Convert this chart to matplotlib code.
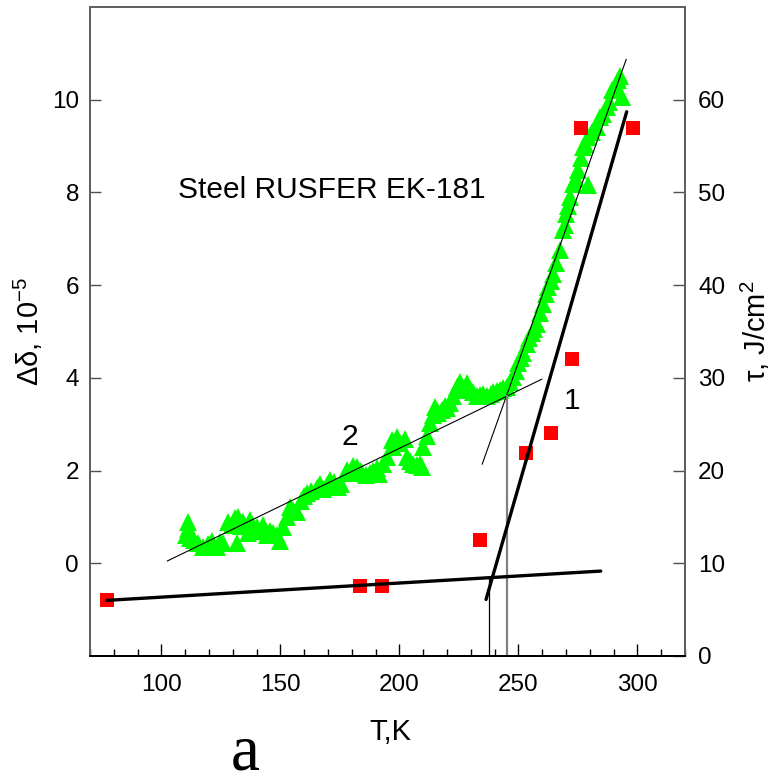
import matplotlib
matplotlib.use('Agg')
import matplotlib.pyplot as plt
from matplotlib.ticker import MultipleLocator

plt.rcParams['font.family'] = ['Liberation Sans', 'DejaVu Sans']
plt.rcParams['mathtext.fontset'] = 'custom'
plt.rcParams['mathtext.rm'] = 'Liberation Sans'
plt.rcParams['mathtext.it'] = 'Liberation Sans:italic'

# ---- data: internal friction (green triangles), left axis ----
green_T = [110.2, 111, 111.3, 112, 113.5, 115.5, 117.6, 119.5, 121.1, 123.2,
           124.5, 126, 128.1, 129.5, 130.9, 131.6, 132.3, 133.5, 134.4, 136.5,
           137.2, 138.5, 140, 141.5, 142.8, 144.2, 145.5, 147, 148.5, 149.8,
           151.2, 152.6, 154, 155.5, 156.8, 158.5, 160, 161, 163, 165.2,
           166.6, 168, 169.4, 170.8, 172.5, 174, 175.5, 177.8, 179.5, 180.5,
           182, 184, 186, 187.6, 189, 190.4, 191.5, 193.2, 195, 196.7,
           197.5, 198.8, 200.2, 202.3, 203, 204.5, 205.8, 207.2, 208.6, 209.3,
           210, 211.5, 212.9, 214, 215, 216.3, 217.7, 219, 220, 221.3,
           222.7, 224.1, 225.5, 227, 228.2, 229.5, 231, 232.5, 234, 235.2,
           237, 238.5, 239.4, 241, 242.2, 243.5, 245.1, 246.5, 247.9, 249,
           250, 251, 252.1, 253.5, 254.5, 255.6, 256.5, 257.7, 259, 260.5,
           261.5, 262.6, 263.5, 264.7, 266, 267.4, 268.8, 269.5, 270.2, 271,
           271.6, 273, 274, 275.1, 276.2, 277.2, 278, 279.3, 279.3, 281,
           282.9, 284.3, 285.5, 287.1, 288, 289.2, 290.5, 292, 292.7, 293.4]
green_dd = [0.61, 0.75, 0.90, 0.55, 0.50, 0.43, 0.36, 0.42, 0.47, 0.36,
            0.45, 0.43, 0.90, 0.82, 0.97, 0.43, 1.00, 0.80, 0.90, 0.65,
            0.93, 0.75, 0.79, 0.70, 0.83, 0.61, 0.70, 0.65, 0.60, 0.47,
            0.79, 1.00, 1.22, 1.15, 1.11, 1.35, 1.45, 1.51, 1.55, 1.62,
            1.72, 1.60, 1.69, 1.80, 1.75, 1.65, 1.70, 2.01, 1.95, 2.10,
            2.08, 1.98, 1.90, 1.94, 2.00, 2.05, 1.92, 2.15, 2.30, 2.66,
            2.50, 2.73, 2.59, 2.69, 2.30, 2.20, 2.15, 2.12, 2.15, 2.08,
            2.51, 2.75, 3.02, 3.20, 3.37, 3.25, 3.30, 3.40, 3.35, 3.45,
            3.60, 3.80, 3.90, 3.73, 3.88, 3.75, 3.70, 3.60, 3.62, 3.66,
            3.60, 3.65, 3.70, 3.72, 3.73, 3.78, 3.80, 3.92, 4.02, 4.15,
            4.31, 4.42, 4.53, 4.74, 4.85, 4.96, 5.05, 5.17, 5.39, 5.60,
            5.80, 5.96, 6.10, 6.25, 6.47, 6.75, 7.18, 7.30, 7.54, 7.70,
            7.90, 8.19, 8.30, 8.48, 8.75, 8.98, 9.05, 8.15, 9.20, 9.30,
            9.41, 9.62, 9.70, 9.84, 9.95, 10.20, 10.30, 10.42, 10.52, 10.06]

# ---- data: impact toughness (red squares), right axis ----
red_T = [77.1, 183.4, 192.8, 233.7, 253.2, 263.7, 272.6, 276.3, 298.0]
red_tau = [6.0, 7.5, 7.5, 12.5, 21.9, 24.0, 32.0, 57.0, 57.0]

# thick fit lines (right axis, tau)
fitA_T = [77.1, 284.6]
fitA_tau = [6.0, 9.16]
fitB_T = [236.4, 295.5]
fitB_tau = [6.1, 58.7]

# thin fit lines (left axis, delta)
fit2_T = [102.5, 259.8]
fit2_dd = [0.05, 3.97]
fit3_T = [234.8, 295.3]
fit3_dd = [2.14, 10.87]

# vertical marker lines
vblack_T = [237.8, 237.8]
vblack_tau = [0.0, 8.45]
vgray_T = [245.0, 245.0]
vgray_dd = [-2.0, 3.60]

xticks = [100, 150, 200, 250, 300]
left_ticks = [0, 2, 4, 6, 8, 10]
right_ticks = [0, 10, 20, 30, 40, 50, 60]

fig = plt.figure(figsize=(7.72, 7.84), dpi=100)
ax = fig.add_axes([90 / 772, 1 - 656 / 784, 595 / 772, 649 / 784])
ax2 = ax.twinx()

ax.plot(green_T, green_dd, linestyle='none', marker='^', ms=12.5,
        color='#00ff00', mew=0)
ax.plot(fit2_T, fit2_dd, color='black', lw=0.8)
ax.plot(fit3_T, fit3_dd, color='black', lw=0.8)
ax.plot(vgray_T, vgray_dd, color='#808080', lw=1.6)

ax2.plot(red_T, red_tau, linestyle='none', marker='s', ms=10,
         color='#ff0000', mew=0)
ax2.plot(fitA_T, fitA_tau, color='black', lw=2.4, solid_capstyle='round')
ax2.plot(fitB_T, fitB_tau, color='black', lw=2.4, solid_capstyle='round')
ax2.plot(vblack_T, vblack_tau, color='black', lw=0.9)

ax.set_xlim(70, 320)
ax.set_ylim(-2, 12)
ax2.set_ylim(0, 70)

ax.set_xticks(xticks)
ax.xaxis.set_minor_locator(MultipleLocator(10))
ax.set_yticks(left_ticks)
ax2.set_yticks(right_ticks)

ax.tick_params(axis='x', which='major', direction='in', length=9, width=1,
               labelsize=17.5, pad=13, top=False)
ax.tick_params(axis='x', which='minor', direction='in', length=4.8, width=1,
               top=False)
ax.tick_params(axis='y', direction='in', length=7.7, width=1, labelsize=17.5,
               pad=8, right=False, color='#505050')
ax2.tick_params(axis='y', direction='in', length=8.4, width=1, labelsize=17.5,
                pad=9.5, color='#505050')

for a in (ax, ax2):
    for side in ('left', 'right', 'top'):
        a.spines[side].set_color('#606060')
        a.spines[side].set_linewidth(1.4)
    a.spines['bottom'].set_color('black')
    a.spines['bottom'].set_linewidth(1.4)

ax.set_xlabel('T,K', fontsize=21)
ax.xaxis.set_label_coords(0.505, -0.095)
ax.set_ylabel('Δδ, 10$^{\\mathregular{-5}}$', fontsize=21, va='center')
ax.yaxis.set_label_coords((28 - 90) / 595, 0.5)
ax2.set_ylabel('τ, J/cm$^{\\mathregular{2}}$', fontsize=21, va='center',
               rotation=90)
ax2.yaxis.set_label_coords((755 - 90) / 595, 0.5)

ax.text(107, 8.05, 'Steel RUSFER EK-181', fontsize=21.5, va='center', ha='left')
ax.text(179.2, 2.72, '2', fontsize=21.5, va='center', ha='center')
ax.text(272.5, 3.5, '1', fontsize=21.5, va='center', ha='center')

fig.text(245 / 772, 1 / 784, 'a', family='Liberation Serif', fontsize=47,
         ha='center', va='bottom')

fig.savefig('out.png', dpi=100)
